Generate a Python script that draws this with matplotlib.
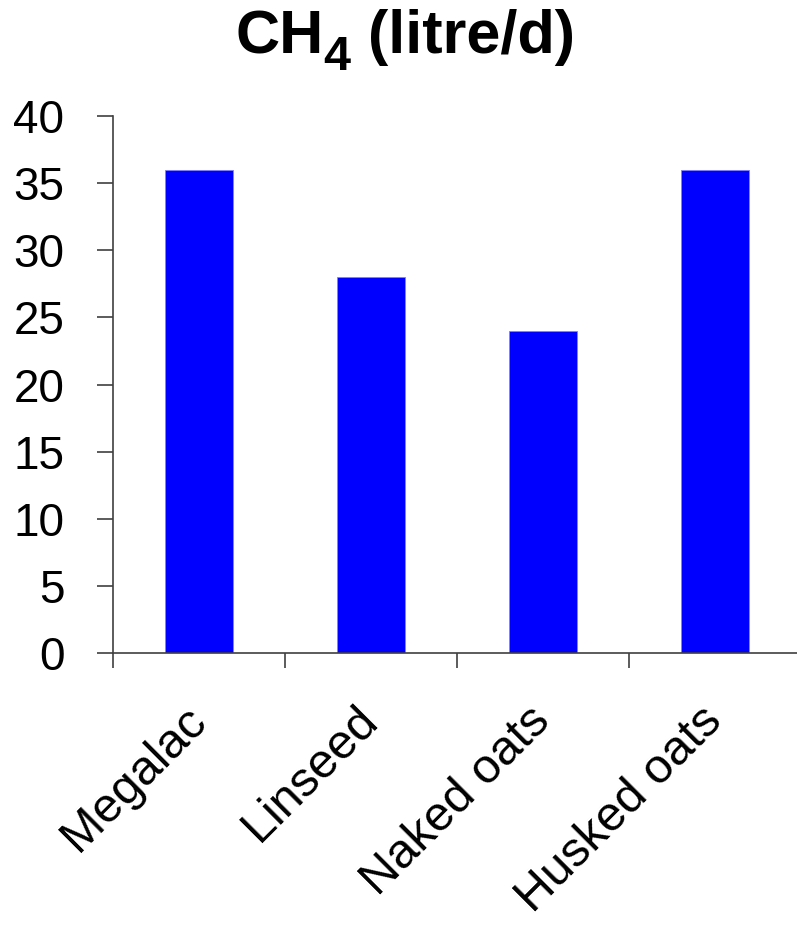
import matplotlib
matplotlib.use("Agg")
import matplotlib.pyplot as plt
import numpy as np

# CH4 output per diet
diets = ["Megalac", "Linseed", "Naked oats", "Husked oats"]
ch4 = [36, 28, 24, 36]
yticks = [0, 5, 10, 15, 20, 25, 30, 35, 40]

plt.rcParams["font.family"] = ["Liberation Sans", "DejaVu Sans"]


def main():
    fig = plt.figure(figsize=(7.97, 9.26), dpi=100)
    # right edge goes a little past the figure, like the original slide
    ax = fig.add_axes([0.1418, 0.2948, 0.8632, 0.5799])

    x = np.arange(len(diets)) + 0.5
    ax.bar(x, ch4, width=0.4, color="#0000ff", edgecolor="#8080ff", linewidth=0.6)

    ax.set_xlim(0, len(diets))
    ax.set_ylim(0, 40)
    ax.set_yticks(yticks)
    ax.set_yticklabels([str(v) for v in yticks], fontsize=33)

    # ticks on category boundaries, labels in the middle
    ax.set_xticks(np.arange(len(diets) + 1))
    ax.set_xticklabels([])
    ax.set_xticks(x, minor=True)
    ax.set_xticklabels(diets, minor=True, fontsize=35, rotation=45,
                       ha="right", va="center", rotation_mode="anchor")
    ax.tick_params(axis="x", which="minor", length=0, pad=44)
    ax.tick_params(axis="x", which="major", length=11, width=1.2, color="#404040", direction="out")
    ax.tick_params(axis="y", length=11.5, width=1.2, color="#404040", direction="out", pad=23.5)

    for side in ["top", "right"]:
        ax.spines[side].set_visible(False)
    for side in ["left", "bottom"]:
        ax.spines[side].set_color("#404040")
        ax.spines[side].set_linewidth(1.2)

    # title built from pieces so the subscript can be large
    W, H = fig.bbox.width, fig.bbox.height
    base_y = 1 - 53 / H
    sub_y = 1 - 70 / H
    pieces = [("CH", 44, base_y), ("4", 35, sub_y), (" (litre/d)", 44, base_y)]
    texts = [fig.text(0, y, s, fontsize=fs, fontweight="bold", va="baseline")
             for s, fs, y in pieces]
    fig.canvas.draw()
    r = fig.canvas.get_renderer()
    widths = [t.get_window_extent(r).width for t in texts]
    x0 = 405 - sum(widths) / 2
    for t, w in zip(texts, widths):
        t.set_x(x0 / W)
        x0 += w

    fig.savefig("out.png", dpi=100)


if __name__ == "__main__":
    main()
